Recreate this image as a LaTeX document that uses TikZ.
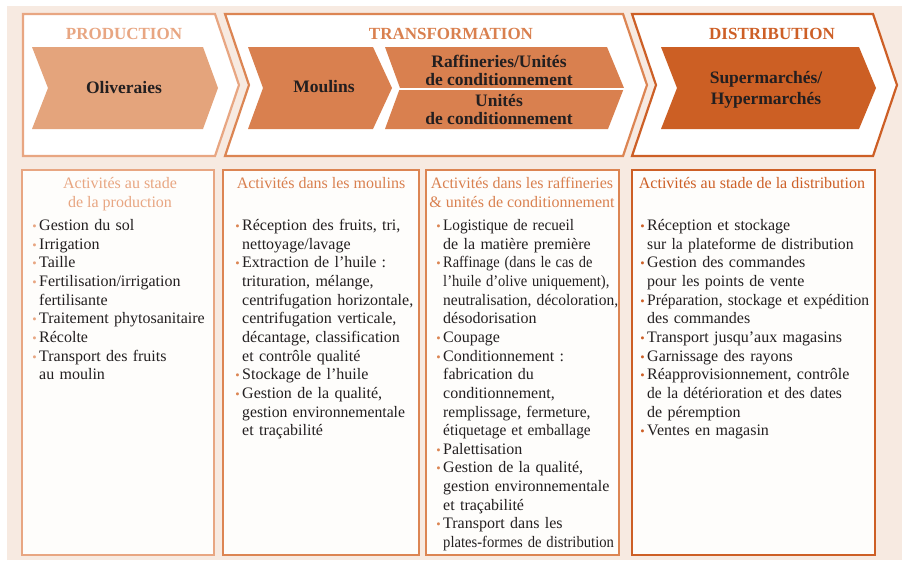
\documentclass[tikz,border=0pt]{standalone}
\usepackage{fontspec}
\setmainfont{Liberation Serif}
\definecolor{bgc}{HTML}{F7EAE1}
\definecolor{cP}{HTML}{E8A682}
\definecolor{cPf}{HTML}{E4A47C}
\definecolor{cT}{HTML}{DC8553}
\definecolor{cTf}{HTML}{D9804F}
\definecolor{cD}{HTML}{CD5F26}
\definecolor{cDf}{HTML}{CC5F24}
\definecolor{txt}{HTML}{231F20}
\definecolor{boxw}{HTML}{FEFDFB}
\newcommand\bul[1]{\makebox[0pt][r]{\textcolor{#1}{\fontsize{12.5}{12}\selectfont\textbullet}\hspace{2.5pt}}}
\newcommand\sq[2]{\scalebox{#1}[1]{#2}}
\begin{document}
\begin{tikzpicture}[x=1pt,y=-1pt,
  frame/.style={fill=white,line width=2.2pt,line join=miter},
  ttl/.style={font=\fontsize{17}{17}\selectfont\bfseries,anchor=base},
  chtxt/.style={font=\fontsize{17.5}{21}\selectfont\bfseries,text=txt,align=center},
  actbox/.style={fill=boxw,line width=2.5pt},
  hdr/.style={font=\fontsize{16}{18.65}\selectfont,align=center,anchor=base},
  body/.style={font=\fontsize{16}{18.65}\selectfont,text=txt,text width=250pt,align=left,anchor=base west,inner sep=0pt}]
\useasboundingbox (0,0) rectangle (902,560);
\fill[bgc] (7,6) rectangle (902,560);

% stage frames
\draw[frame,draw=cP] (23,14) -- (215,14) -- (239,85) -- (215,156) -- (23,156) -- cycle;
\draw[frame,draw=cT] (225,14) -- (623,14) -- (647,85) -- (623,156) -- (225,156) -- (249,85) -- cycle;
\draw[frame,draw=cD] (632,14) -- (873,14) -- (897,85) -- (873,156) -- (632,156) -- (656,85) -- cycle;

% titles
\node[ttl,text=cP] (tP) at (124,39) {PRODUCTION};
\node[ttl,text=cTf] (tT) at (451,39) {TRANSFORMATION};
\node[ttl,text=cD] (tD) at (772,39) {DISTRIBUTION};

% inner chevrons
\fill[cPf] (32,47) -- (203,47) -- (218,88) -- (203,129) -- (32,129) -- (48,88) -- cycle;
\fill[cTf] (248,47) -- (373,47) -- (392,88) -- (373,129) -- (248,129) -- (263,88) -- cycle;
\fill[cTf] (385,47) -- (607,47) -- (624,88) -- (608,129) -- (385,129) -- (400,88) -- cycle;
\draw[white,line width=1.5pt] (398,89) -- (626,89);
\fill[cDf] (661,47) -- (859,47) -- (876,88) -- (859,129) -- (661,129) -- (677,88) -- cycle;

\node[chtxt] (oli) at (124,88) {Oliveraies};
\node[chtxt] (mou) at (324,87) {Moulins};
\node[chtxt] (raf) at (499,70) {Raffineries/Unités\\[-3pt]de conditionnement};
\node[chtxt] (uni) at (499,110) {Unités\\[-3pt]de conditionnement};
\node[chtxt] (sup) at (766,90) {Supermarchés/\\Hypermarchés};

% activity boxes
\draw[actbox,draw=cP] (22,170) rectangle (214,555);
\draw[actbox,draw=cT] (223,170) rectangle (419,555);
\draw[actbox,draw=cT] (426,170) rectangle (619,555);
\draw[actbox,draw=cD] (632,170) rectangle (875,555);

\node[hdr,text=cP] (h1) at (120,207) {Activités au stade\\de la production};
\node[hdr,text=cTf] (h2) at (321,188.5) {Activités dans les moulins};
\node[hdr,text=cTf] (h3) at (522,207) {Activités dans les raffineries\\\& unités de conditionnement};
\node[hdr,text=cD] (h4) at (752,188.5) {Activités au stade de la distribution};

\node[body] (b1) at (39,230.5) {%
\bul{cP}Gestion du sol\\
\bul{cP}Irrigation\\
\bul{cP}Taille\\
\bul{cP}Fertilisation/irrigation\\
fertilisante\\
\bul{cP}Traitement phytosanitaire\\
\bul{cP}Récolte\\
\bul{cP}Transport des fruits\\
au moulin};

\node[body] (b2) at (242,230.5) {%
\bul{cT}Réception des fruits, tri,\\
nettoyage/lavage\\
\bul{cT}Extraction de l’huile :\\
trituration, mélange,\\
centrifugation horizontale,\\
centrifugation verticale,\\
décantage, classification\\
et contrôle qualité\\
\bul{cT}Stockage de l’huile\\
\bul{cT}Gestion de la qualité,\\
\sq{0.98}{gestion environnementale}\\
et traçabilité};

\node[body] (b3) at (443,230.5) {%
\bul{cT}\sq{0.95}{Logistique de recueil}\\
de la matière première\\
\bul{cT}\sq{0.9}{Raffinage (dans le cas de}\\
\sq{0.91}{l’huile d’olive uniquement),}\\
\sq{0.97}{neutralisation, décoloration,}\\
désodorisation\\
\bul{cT}Coupage\\
\bul{cT}Conditionnement :\\
fabrication du\\
conditionnement,\\
\sq{0.97}{remplissage, fermeture,}\\
\sq{0.96}{étiquetage et emballage}\\
\bul{cT}Palettisation\\
\bul{cT}Gestion de la qualité,\\
gestion environnementale\\
et traçabilité\\
\bul{cT}Transport dans les\\
\sq{0.915}{plates-formes de distribution}};

\node[body] (b4) at (647,230.5) {%
\bul{cD}Réception et stockage\\
\sq{0.98}{sur la plateforme de distribution}\\
\bul{cD}Gestion des commandes\\
pour les points de vente\\
\bul{cD}\sq{0.97}{Préparation, stockage et expédition}\\
des commandes\\
\bul{cD}Transport jusqu’aux magasins\\
\bul{cD}Garnissage des rayons\\
\bul{cD}Réapprovisionnement, contrôle\\
\sq{0.97}{de la détérioration et des dates}\\
de péremption\\
\bul{cD}Ventes en magasin};
\end{tikzpicture}
\end{document}
